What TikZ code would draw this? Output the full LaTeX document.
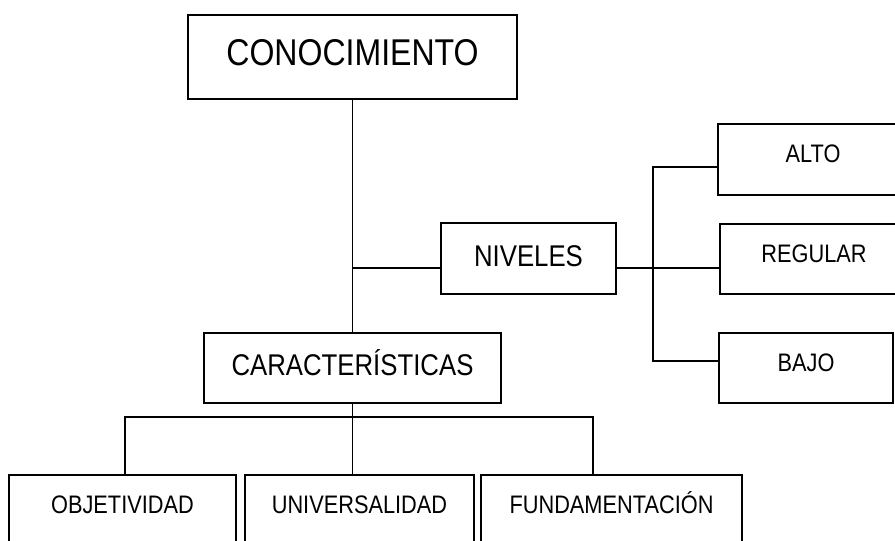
\documentclass[tikz,border=0pt]{standalone}
\usepackage{fontspec}
\setmainfont[FakeStretch=0.86]{Liberation Sans}

\begin{document}
\begin{tikzpicture}[x=0.025cm,y=-0.025cm,line width=1.4pt,
    caja/.style={draw,rectangle,inner sep=0pt},
    grande/.style={font=\fontsize{26.5}{29}\selectfont,text height=19pt,text depth=7pt},
    media/.style={font=\fontsize{21.3}{24}\selectfont,text height=15.2pt,text depth=4pt},
    chica/.style={font=\fontsize{18}{21}\selectfont,text height=12.9pt,text depth=8.5pt}]

    \useasboundingbox (0,0) rectangle (895,540);
    \clip (0,0) rectangle (895,540);

    \node (con) at (352.5,57) [caja,grande,minimum width=8.225cm,minimum height=2.1cm] {CONOCIMIENTO};
    \node (niv) at (528.5,258.5) [caja,media,minimum width=4.375cm,minimum height=1.775cm] {NIVELES};
    \node (car) at (352.5,368) [caja,media,minimum width=7.4cm,minimum height=1.75cm] {CARACTERÍSTICAS};

    \node (alt) at (813,159.5) [caja,chica,minimum width=4.75cm,minimum height=1.775cm] {ALTO};
    \node (reg) at (814,259) [caja,chica,minimum width=4.7cm,minimum height=1.75cm] {REGULAR};
    \node (baj) at (806,368) [caja,chica,minimum width=4.35cm,minimum height=1.75cm] {BAJO};

    \node (obj) at (122.5,510) [caja,chica,minimum width=5.675cm,minimum height=1.75cm] {OBJETIVIDAD};
    \node (uni) at (359.5,510) [caja,chica,minimum width=5.725cm,minimum height=1.75cm] {UNIVERSALIDAD};
    \node (fun) at (611.5,510) [caja,chica,minimum width=6.525cm,minimum height=1.75cm] {FUNDAMENTACIÓN};

    \coordinate (hub) at (352.5,268);
    \coordinate (rama) at (653,268);
    \coordinate (rama1) at (653,167);
    \coordinate (rama3) at (653,361);
    \coordinate (bo) at (125,417);
    \coordinate (bf) at (593,417);

    \draw (con.south) -- (car.north);
    \draw (hub) -- (hub -| niv.west);
    \draw (niv.east |- rama) -- (rama) -- (rama -| reg.west);
    \draw (rama1 -| alt.west) -- (rama1) -- (rama3) -- (rama3 -| baj.west);

    \draw (car.south) -- (car.south |- uni.north);
    \draw (bo |- obj.north) -- (bo) -- (bf) -- (bf |- fun.north);
  \end{tikzpicture}
\end{document}
